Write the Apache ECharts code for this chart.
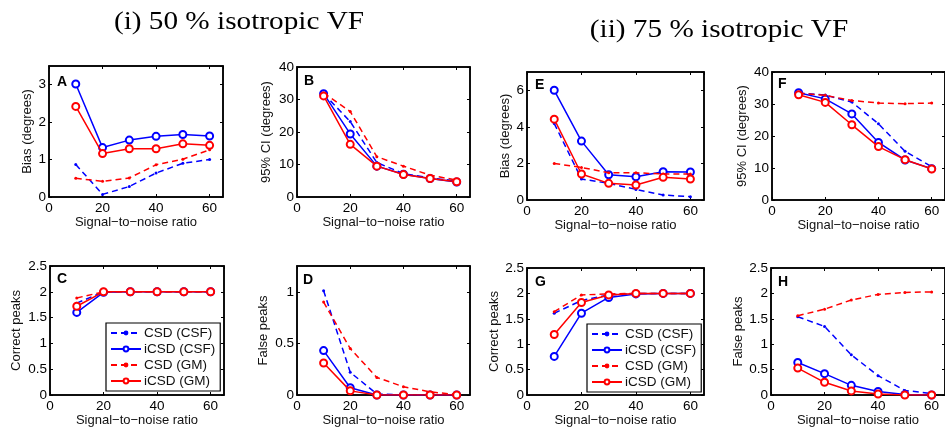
<!DOCTYPE html>
<html>
<head>
<meta charset="utf-8">
<script src="https://cdn.jsdelivr.net/npm/echarts@6/dist/echarts.min.js"></script>
<style>html,body{margin:0;padding:0;background:#fff}#c{width:945px;height:428px}</style>
</head>
<body>
<div id="c"></div>
<script>
// ---- data ----
const snr = [10, 20, 30, 40, 50, 60];
const seriesNames = ['CSD (CSF)', 'iCSD (CSF)', 'CSD (GM)', 'iCSD (GM)'];
const xTicks = [0, 20, 40, 60];
const panelLetters = ['A', 'B', 'C', 'D', 'E', 'F', 'G', 'H'];
const yNames = ['Bias (degrees)', '95% CI (degrees)', 'Correct peaks', 'False peaks',
                'Bias (degrees)', '95% CI (degrees)', 'Correct peaks', 'False peaks'];
const titles = ['(i) 50 % isotropic VF', '(ii) 75 % isotropic VF'];
const xName = 'Signal\u2212to\u2212noise ratio';

// Panel A: bias, 50%
const csdCSF_A  = [0.87, 0.07, 0.28, 0.64, 0.90, 1.00];
const icsdCSF_A = [3.02, 1.32, 1.52, 1.62, 1.67, 1.63];
const csdGM_A   = [0.50, 0.42, 0.51, 0.86, 1.01, 1.26];
const icsdGM_A  = [2.42, 1.16, 1.29, 1.29, 1.42, 1.38];
// Panel B: 95% CI, 50%
const csdCSF_B  = [31.8, 23.2, 10.6, 7.2, 5.9, 4.9];
const icsdCSF_B = [31.8, 19.4, 9.5, 7.0, 5.7, 4.6];
const csdGM_B   = [32.0, 26.3, 12.4, 9.5, 6.7, 5.2];
const icsdGM_B  = [31.1, 16.2, 9.5, 6.9, 5.7, 4.7];
// Panel C: correct peaks, 50%
const csdCSF_C  = [1.78, 2, 2, 2, 2, 2];
const icsdCSF_C = [1.60, 1.99, 2, 2, 2, 2];
const csdGM_C   = [1.88, 2, 2, 2, 2, 2];
const icsdGM_C  = [1.72, 2, 2, 2, 2, 2];
// Panel D: false peaks, 50%
const csdCSF_D  = [1.01, 0.22, 0.01, 0, 0, 0];
const icsdCSF_D = [0.43, 0.07, 0, 0, 0, 0];
const csdGM_D   = [0.90, 0.45, 0.17, 0.08, 0.03, 0.005];
const icsdGM_D  = [0.31, 0.04, 0, 0, 0, 0];
// Panel E: bias, 75%
const csdCSF_E  = [4.18, 1.15, 0.91, 0.58, 0.27, 0.18];
const icsdCSF_E = [6.0, 3.22, 1.38, 1.27, 1.55, 1.53];
const csdGM_E   = [2.0, 1.78, 1.49, 1.49, 1.42, 1.42];
const icsdGM_E  = [4.42, 1.42, 0.91, 0.82, 1.24, 1.15];
// Panel F: 95% CI, 75%
const csdCSF_F  = [33.4, 32.8, 30.6, 23.8, 15.2, 10.4];
const icsdCSF_F = [33.5, 31.6, 26.9, 18.0, 12.5, 9.8];
const csdGM_F   = [33.4, 32.7, 31.1, 30.3, 30.1, 30.3];
const icsdGM_F  = [32.9, 30.5, 23.5, 16.7, 12.6, 9.7];
// Panel G: correct peaks, 75%
const csdCSF_G  = [1.61, 1.86, 1.97, 2, 2, 2];
const icsdCSF_G = [0.76, 1.61, 1.92, 1.99, 2, 2];
const csdGM_G   = [1.64, 1.97, 1.99, 2, 2, 2];
const icsdGM_G  = [1.19, 1.82, 1.97, 2, 2, 2];
// Panel H: false peaks, 75%
const csdCSF_H  = [1.54, 1.35, 0.79, 0.38, 0.09, 0.03];
const icsdCSF_H = [0.64, 0.42, 0.19, 0.07, 0.01, 0];
const csdGM_H   = [1.56, 1.69, 1.87, 1.98, 2.02, 2.03];
const icsdGM_H  = [0.53, 0.25, 0.08, 0.02, 0, 0];

const panelData = [
  [csdCSF_A, icsdCSF_A, csdGM_A, icsdGM_A],
  [csdCSF_B, icsdCSF_B, csdGM_B, icsdGM_B],
  [csdCSF_C, icsdCSF_C, csdGM_C, icsdGM_C],
  [csdCSF_D, icsdCSF_D, csdGM_D, icsdGM_D],
  [csdCSF_E, icsdCSF_E, csdGM_E, icsdGM_E],
  [csdCSF_F, icsdCSF_F, csdGM_F, icsdGM_F],
  [csdCSF_G, icsdCSF_G, csdGM_G, icsdGM_G],
  [csdCSF_H, icsdCSF_H, csdGM_H, icsdGM_H]
];
const yMax = [3.5, 40, 2.5, 1.25, 7, 40, 2.5, 2.5];
const yInterval = [1, 10, 0.5, 0.5, 2, 10, 0.5, 0.5];

// ---- layout / style ----
const grids = [
  {left: 49,  top: 66,  width: 174, height: 131},
  {left: 297, top: 67,  width: 173, height: 130},
  {left: 50,  top: 266, width: 174, height: 130},
  {left: 297, top: 266, width: 173, height: 130},
  {left: 527, top: 72,  width: 177, height: 128},
  {left: 772, top: 72,  width: 174, height: 128},
  {left: 527, top: 268, width: 177, height: 128},
  {left: 771, top: 268, width: 175, height: 128}
];
const yNameGap = [15, 24, 27, 27, 15, 23, 26, 26];
const letterPos = [[57, 82], [304, 81], [57, 279], [303, 280], [535, 85], [778, 84], [535, 282], [778, 282]];
const FONT = 'Liberation Sans';
const colors = ['#0000ff', '#0000ff', '#ff0000', '#ff0000'];
const dashed = [true, false, true, false];

const option = {
  animation: false,
  backgroundColor: '#fff',
  grid: [], xAxis: [], yAxis: [], series: [],
  legend: [],
  graphic: []
};

grids.forEach((g, i) => {
  option.grid.push(Object.assign({show: true, borderColor: '#000', borderWidth: 1.5, backgroundColor: 'transparent'}, g));
  const tick = {show: true, inside: true, length: 3, lineStyle: {color: '#000', width: 1}};
  const line = {show: true, onZero: false, lineStyle: {color: '#000', width: 1.5}};
  option.xAxis.push({
    type: 'value', gridIndex: i, min: 0, max: 65, interval: 20, position: 'bottom',
    axisLine: line, axisTick: tick, splitLine: {show: false},
    axisLabel: {color: '#000', fontSize: 13.5, fontFamily: FONT, margin: 4, showMaxLabel: false},
    name: xName, nameLocation: 'middle', nameGap: 19,
    nameTextStyle: {color: '#111', fontSize: 13, fontFamily: FONT}
  });
  option.xAxis.push({
    type: 'value', gridIndex: i, min: 0, max: 65, interval: 20, position: 'top',
    axisLine: line, axisTick: tick, splitLine: {show: false}, axisLabel: {show: false}
  });
  option.yAxis.push({
    type: 'value', gridIndex: i, min: 0, max: yMax[i], interval: yInterval[i], position: 'left',
    axisLine: line, axisTick: tick, splitLine: {show: false},
    axisLabel: {color: '#000', fontSize: 13.5, fontFamily: FONT, margin: 3,
                showMaxLabel: (yMax[i] / yInterval[i]) % 1 === 0},
    name: yNames[i], nameLocation: 'middle', nameGap: yNameGap[i],
    nameTextStyle: {color: '#111', fontSize: 13, fontFamily: FONT}
  });
  option.yAxis.push({
    type: 'value', gridIndex: i, min: 0, max: yMax[i], interval: yInterval[i], position: 'right',
    axisLine: line, axisTick: tick, splitLine: {show: false}, axisLabel: {show: false}
  });

  panelData[i].forEach((vals, k) => {
    option.series.push({
      type: 'line', name: seriesNames[k],
      xAxisIndex: 2 * i, yAxisIndex: 2 * i,
      data: snr.map((x, j) => [x, vals[j]]),
      color: colors[k],
      lineStyle: {color: colors[k], width: 1.5, type: dashed[k] ? [6, 4] : 'solid'},
      symbol: dashed[k] ? 'circle' : 'emptyCircle',
      symbolSize: dashed[k] ? 3 : 7,
      itemStyle: {color: colors[k], borderColor: colors[k], borderWidth: dashed[k] ? 0 : 1.5},
      showSymbol: true, z: 3 + k
    });
  });

  option.graphic.push({
    type: 'text', x: letterPos[i][0], y: letterPos[i][1],
    style: {text: panelLetters[i], font: 'bold 14px "Liberation Sans"', fill: '#000', textVerticalAlign: 'middle'}
  });
});

[[106, 323], [587, 324]].forEach(p => {
  option.legend.push({
    data: seriesNames, orient: 'vertical', left: p[0], top: p[1],
    itemWidth: 30, itemHeight: 6, itemGap: 2,
    padding: [3, 5, 3, 4],
    borderColor: '#000', borderWidth: 1.2, backgroundColor: '#fff',
    textStyle: {color: '#111', fontSize: 13.5, fontFamily: FONT, lineHeight: 14, padding: [0, 0, 0, -2]},
    selectedMode: false
  });
});

// titles (Computer-Modern-like width via horizontal scale)
option.graphic.push({
  type: 'text', x: 239, y: 22, scaleX: 1.17,
  style: {text: titles[0], font: '25px "Liberation Serif"', fill: '#000', textAlign: 'center', textVerticalAlign: 'middle'}
});
option.graphic.push({
  type: 'text', x: 719, y: 30, scaleX: 1.17,
  style: {text: titles[1], font: '25px "Liberation Serif"', fill: '#000', textAlign: 'center', textVerticalAlign: 'middle'}
});

const chart = echarts.init(document.getElementById('c'), null, {renderer: 'canvas'});
chart.setOption(option);
</script>
</body>
</html>
